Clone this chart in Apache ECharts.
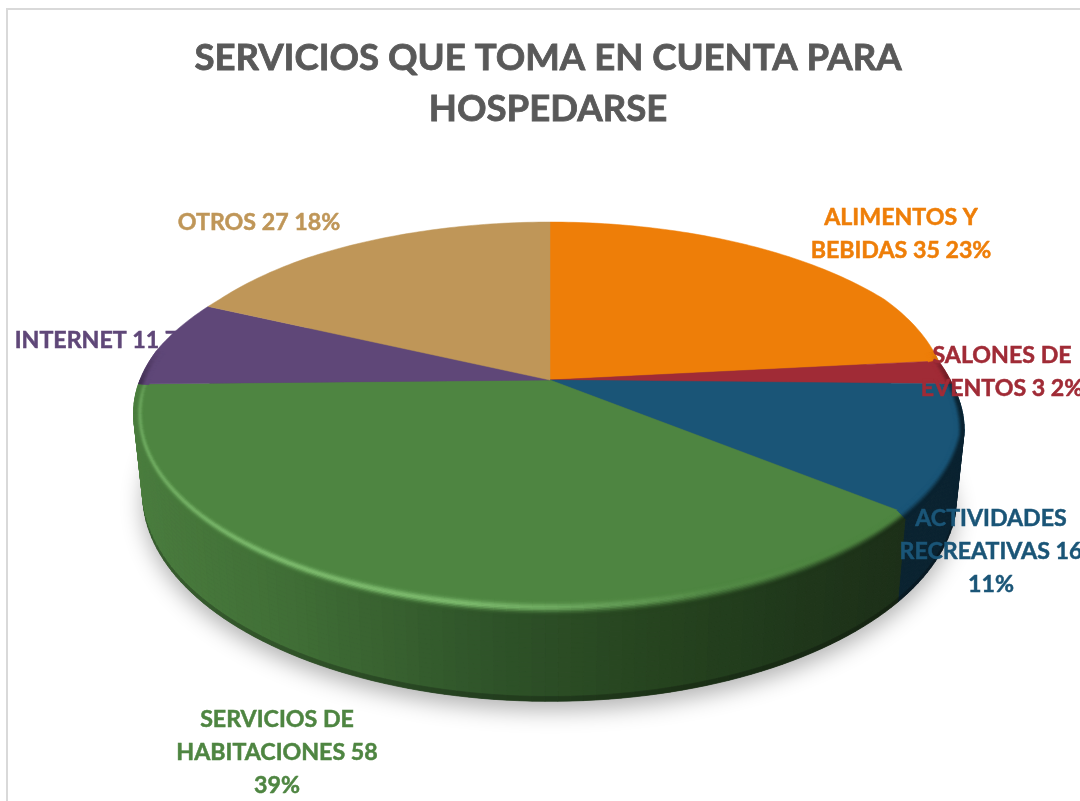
<!DOCTYPE html>
<html><head><meta charset="utf-8">
<style>html,body{margin:0;padding:0;background:#fff;overflow:hidden}#c{width:1080px;height:801px}</style>
<script src="https://cdn.jsdelivr.net/npm/echarts@6/dist/echarts.min.js"></script>
</head><body><div id="c"></div><script>
const titleText = "SERVICIOS QUE TOMA EN CUENTA PARA\nHOSPEDARSE";
const categories = ["ALIMENTOS Y\nBEBIDAS","SALONES DE\nEVENTOS","ACTIVIDADES\nRECREATIVAS","SERVICIOS DE\nHABITACIONES","INTERNET","OTROS"];
const values = [35,3,16,58,11,27];
const percentSeparators = [" "," ","\n","\n"," "," "];

const topColors = ["#EE7E08","#A02B36","#1A5577","#4E8541","#5F4778","#BF9658"];
const labelCenters = [[901,234],[1002,372],[991,552],[277,753],[106,341],[259,223]];
const labelBehindPie = [false,false,false,false,true,false];
const sideStops = [
  [[133,"#7A4A05"],[966,"#7A4A05"]],
  [[133,"#4A1218"],[966,"#4A1218"]],
  [[133,"#0A2330"],[966,"#0A2330"]],
  [[133,"#4A7D3E"],[300,"#3F6D35"],[500,"#2E5228"],[650,"#26441F"],[780,"#20391B"],[905,"#1C2F18"]],
  [[133,"#32243F"],[966,"#32243F"]],
  [[133,"#6A5230"],[966,"#6A5230"]]
];
const highlightColor = "#7DBB6E";
const highlightCurve = [[145,0],[160,.15],[175,.6],[190,1],[215,1],[240,.75],[270,.5]];
const rimCorrection = [[62,0],[84,-12],[92,-9],[106,0],[280,0],[298,4],[318,0]];

const total = values.reduce((a,b)=>a+b,0);
const view = {cx:550, cy:380, a:185.6, b:410, k:-0.175, ex:550, ey:413, ery:191, lrx:0.978, lry:1.08, ly:494};

function curve(c,x){
  if(x<=c[0][0]) return c[0][1];
  for(let j=1;j<c.length;j++) if(x<=c[j][0]) return c[j-1][1]+(c[j][1]-c[j-1][1])*(x-c[j-1][0])/(c[j][0]-c[j-1][0]);
  return c[c.length-1][1];
}
function pt(deg){
  const t=deg*Math.PI/180, x=Math.sin(t), y=-Math.cos(t), d=1+view.k*y;
  return [view.cx+view.b*x/d+curve(rimCorrection,deg), view.cy+view.a*y/d];
}
function lower(p){ return [view.ex+(p[0]-view.ex)*view.lrx, view.ly+(p[1]-view.ey)*view.lry]; }
function hex(c){ return [1,3,5].map(i=>parseInt(c.substr(i,2),16)); }
function mix(a,b,t){ const A=hex(a),B=hex(b); return A.map((v,i)=>v+(B[i]-v)*t); }
function mixRgb(A,B,t){ return A.map((v,i)=>v+(B[i]-v)*t); }
function css(c){ return "rgb("+c.map(Math.round).join(",")+")"; }
function clamp(v){ return Math.max(0,Math.min(1,v)); }
function smooth(v){ v=clamp(v); return v*v*(3-2*v); }
function sideColor(i,x){
  const s=sideStops[i];
  if(x<=s[0][0]) return hex(s[0][1]);
  for(let j=1;j<s.length;j++) if(x<=s[j][0]) return mix(s[j-1][1],s[j][1],(x-s[j-1][0])/(s[j][0]-s[j-1][0]));
  return hex(s[s.length-1][1]);
}
function range(i){
  let s=0; for(let j=0;j<i;j++) s+=values[j];
  return [s/total*360,(s+values[i])/total*360];
}
function quad(p1,p2,p3,p4,color){
  return {type:'polygon',shape:{points:[p1,p2,p3,p4]},style:{fill:color,stroke:color,lineWidth:.7},silent:true};
}
function renderShadow(params){
  const pts=[]; for(let d=0;d<360;d+=2) pts.push(lower(pt(d)));
  return {type:'polygon',shape:{points:pts},style:{fill:'#555',shadowBlur:22,shadowOffsetX:0,shadowOffsetY:9,shadowColor:'rgba(0,0,0,0.3)'},silent:true};
}
function renderSide(params){
  const i=params.dataIndex,[s0,e0]=range(i),strips=[],rows=20,step=1.5;
  const s=Math.max(s0,90),e=Math.min(e0,270);
  const lerp=(A,B,v)=>[A[0]+(B[0]-A[0])*v,A[1]+(B[1]-A[1])*v];
  for(let d=s;d<e-1e-6;d+=step){
    const d2=Math.min(e,d+step),p=pt(d),q=pt(d2),pl=lower(p),ql=lower(q),ch=[];
    const base=sideColor(i,(p[0]+q[0])/2);
    for(let r=0;r<rows;r++){
      const v0=r/rows,v1=(r+1)/rows,vm=(v0+v1)/2;
      const dark=1-.4*smooth((vm-.94)/.06);
      ch.push(quad(lerp(p,pl,v0),lerp(q,ql,v0),lerp(q,ql,v1),lerp(p,pl,v1),css(base.map(c=>c*dark))));
    }
    strips.push({y:pl[1],ch});
  }
  strips.sort((a,b)=>a.y-b.y);
  return {type:'group',children:strips.flatMap(t=>t.ch)};
}
function renderTop(params){
  const i=params.dataIndex,[s,e]=range(i),pts=[[view.cx,view.cy]];
  for(let d=s;d<e;d+=1) pts.push(pt(d));
  pts.push(pt(e));
  return {type:'polygon',shape:{points:pts},style:{fill:topColors[i],stroke:topColors[i],lineWidth:.5},silent:true};
}
function renderBevel(params){
  const i=params.dataIndex,[s,e]=range(i),ch=[],rows=12,step=1.5;
  const top=hex(topColors[i]),bright=hex(highlightColor);
  function bevelPt(p,u){
    const fr=clamp((p[1]-view.ey)/view.ery);
    const inner=[view.ex+(p[0]-view.ex)*.975,view.ey+(p[1]-view.ey)*.975];
    const outer=[p[0],p[1]+13*fr];
    return [inner[0]+(outer[0]-inner[0])*u,inner[1]+(outer[1]-inner[1])*u];
  }
  for(let d=s;d<e-1e-6;d+=step){
    const d2=Math.min(e,d+step),p=pt(d),q=pt(d2),mid=(d+d2)/2;
    const g=clamp(((p[1]+q[1])/2-350)/50);
    if(g<=0) continue;
    const side=sideColor(i,(p[0]+q[0])/2);
    const h=i===3?curve(highlightCurve,mid):0;
    for(let r=0;r<rows;r++){
      const u0=r/rows,u1=(r+1)/rows,um=(u0+u1)/2;
      let c=mixRgb(top,side,smooth((um-.3)/.6));
      const bump=Math.exp(-Math.pow((um-.42)/.2,2));
      c=mixRgb(c,bright,h*bump);
      c=mixRgb(top,c,g);
      ch.push(quad(bevelPt(p,u0),bevelPt(q,u0),bevelPt(q,u1),bevelPt(p,u1),css(c)));
    }
  }
  return {type:'group',children:ch};
}
function renderLabel(behind){
  return function(params){
    const i=params.dataIndex;
    if(labelBehindPie[i]!==behind) return null;
    const pct=Math.round(values[i]/total*100);
    return {type:'text',x:labelCenters[i][0],y:labelCenters[i][1],silent:true,
      style:{text:categories[i]+" "+values[i]+percentSeparators[i]+pct+"%",
        fill:topColors[i],stroke:topColors[i],lineWidth:.5,font:'bold 23.2px Lato',align:'center',verticalAlign:'middle',lineHeight:33}};
  };
}
function layer(fn,z){
  return {type:'custom',coordinateSystem:'none',renderItem:fn,data:values,z:z,clip:false,silent:true,animation:false};
}
const chart=echarts.init(document.getElementById('c'),null,{renderer:'canvas'});
chart.setOption({
  animation:false,
  backgroundColor:'#fff',
  title:{text:titleText,left:543,top:28,textAlign:'center',
    textStyle:{fontFamily:'Lato',fontWeight:'bold',fontSize:36.6,lineHeight:51,color:'#595959',textBorderColor:'#595959',textBorderWidth:.8}},
  graphic:[{type:'rect',shape:{x:7,y:9,width:1300,height:1100},style:{fill:'transparent',stroke:'#D9D9D9',lineWidth:2},silent:true,z:0}],
  series:[
    layer(renderLabel(true),1),
    layer((p)=>p.dataIndex===0?renderShadow(p):null,2),
    layer(renderSide,3),
    layer(renderTop,4),
    layer(renderBevel,5),
    layer(renderLabel(false),6)
  ]
});
</script></body></html>
